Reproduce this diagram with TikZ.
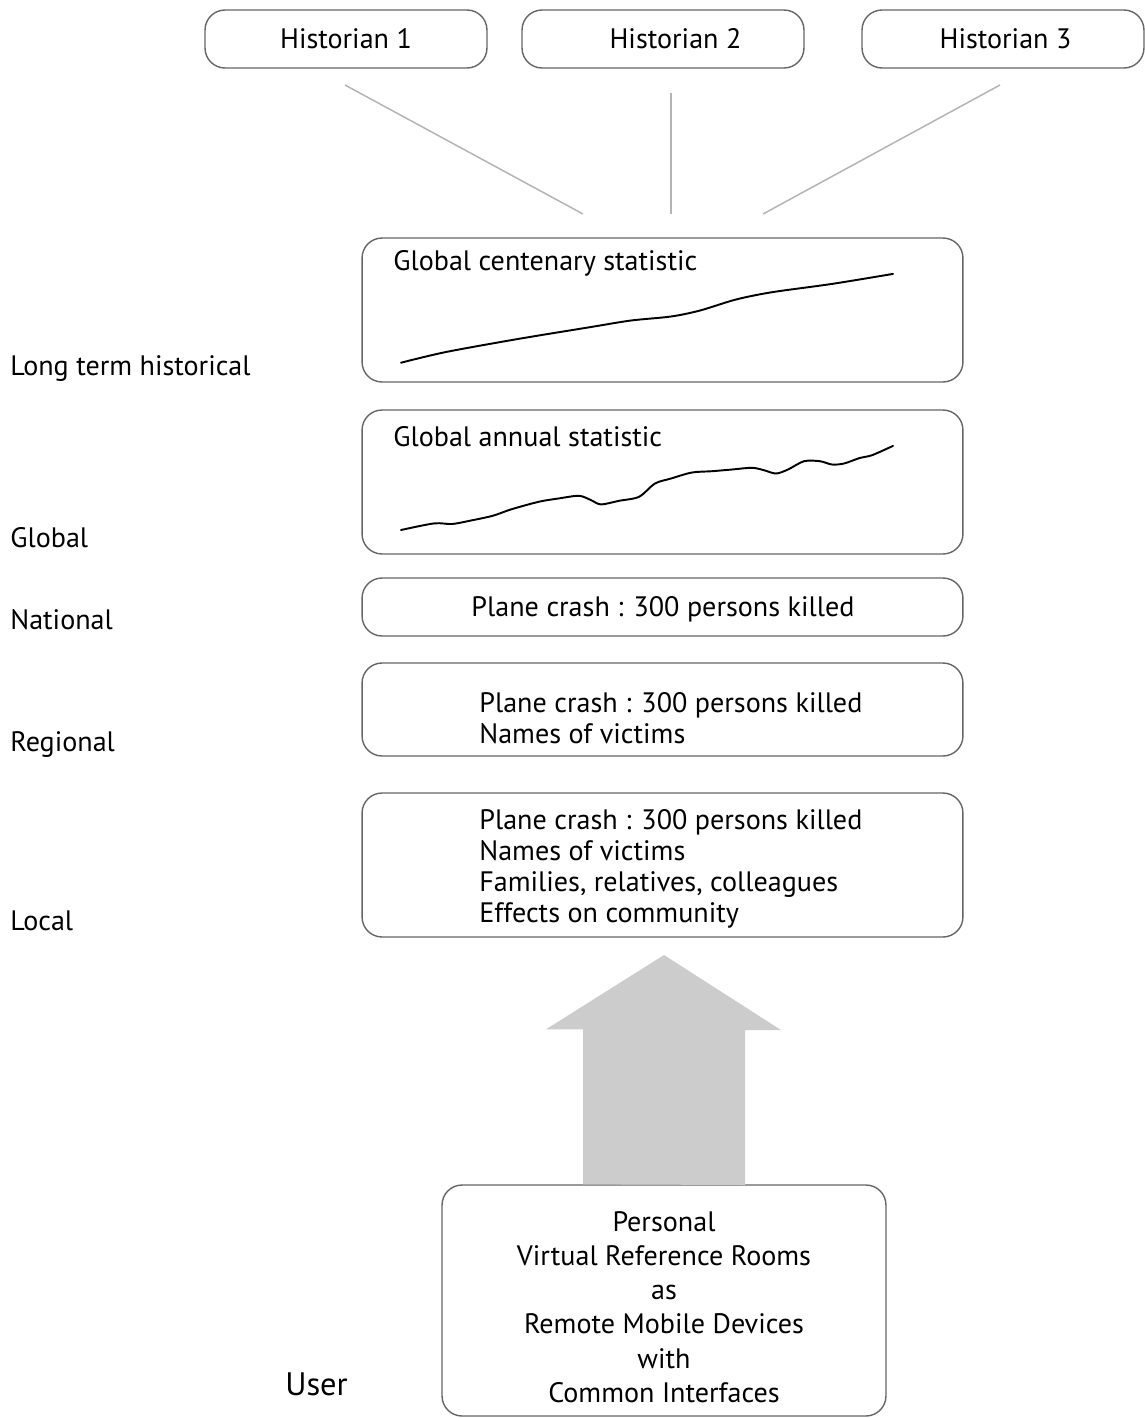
\documentclass[tikz,border=0pt]{standalone}
\usepackage{fontspec}
\setmainfont{PT Sans}
\usepackage{tikz}
\usetikzlibrary{positioning}

\definecolor{boxline}{HTML}{666666}
\definecolor{hubline}{HTML}{B4B4B4}
\definecolor{arrowgray}{HTML}{CCCCCC}

\tikzset{
    txt/.style={font=\fontsize{16pt}{17.6pt}\selectfont, inner sep=0pt},
    levelbox/.style={draw=boxline, line width=0.8pt, rounded corners=0.4cm, minimum width=12.02cm},
    histbox/.style={levelbox, txt, minimum width=5.64cm, minimum height=1.16cm},
    level/.style={txt, anchor=base west},
    stat/.style={line width=1.1pt, line cap=round}
}

\begin{document}
\begin{tikzpicture}[x=0.02cm, y=-0.02cm]
    \useasboundingbox (0,0) rectangle (1145,1418);

    % historians and their lines down to the statistics
    \foreach \ii/\xx/\ss in {1/346/0cm, 2/663/0.5cm, 3/1003/0.1cm}{
        \node[histbox] (h\ii) at (\xx,39) {\hspace*{\ss}Historian \ii};
    }
    \coordinate (top1) at (345,85);
    \coordinate (top2) at (671,93);
    \coordinate (top3) at (1000,85);
    \coordinate (hub1) at (583,214);
    \coordinate (hub2) at (671,214);
    \coordinate (hub3) at (763,214);
    \foreach \ii in {1,2,3}{
        \draw[hubline, line width=0.85pt] (top\ii) -- (hub\ii);
    }

    % level boxes
    \node[levelbox, minimum height=2.88cm] (cent) at (662.5,310) {};
    \node[levelbox, minimum height=2.88cm] (annual) at (662.5,482) {};
    \node[levelbox, minimum height=1.16cm] (national) at (662.5,607) {};
    \node[levelbox, minimum height=1.86cm] (regional) at (662.5,709.5) {};
    \node[levelbox, minimum height=2.88cm] (local) at (662.5,865) {};

    \node[txt, anchor=west] (centtitle) at (393,263) {Global centenary statistic};
    \node[txt, anchor=west] (annualtitle) at (393,437) {Global annual statistic};
    \node[txt] (nationaltext) at (663,609) {Plane crash : 300 persons killed};
    \node[txt, anchor=west, align=left] (regionaltext) at (479,718)
        {Plane crash : 300 persons killed\\Names of victims};
    \node[txt, anchor=west, align=left] (localtext) at (479,869)
        {Plane crash : 300 persons killed\\Names of victims\\Families, relatives, colleagues\\Effects on community};

    % the two statistic curves
    \draw[stat] plot[smooth, tension=0.5] coordinates {
        (401,362.7) (446,352) (519,338.8) (591,327) (631,320.5) (671,316.5)
        (700,310.5) (736,299.5) (772,292.2) (832,283.9) (893,273.9)};
    \draw[stat] plot[smooth, tension=0.5] coordinates {
        (401,530) (434,523.4) (452,524) (470,520.7) (493,515.7) (511,509.4)
        (539,501.7) (559,498.4) (579,495.8) (591,500.1) (601,504.4) (619,500.8)
        (639,496.8) (655,483.5) (671,478.5) (692,472.5) (712,471.2) (732,469.5)
        (752,467.8) (764,470.2) (776,473.5) (788,469.5) (804,461.2) (820,461.2)
        (832,464.5) (844,463.5) (860,457.9) (872,455.2) (893,445.9)};

    % level names on the left
    \node[level] (lLong) at (10,375) {Long term historical};
    \node[level] (lGlobal) at (10,547) {Global};
    \node[level] (lNational) at (10,629) {National};
    \node[level] (lRegional) at (10,751) {Regional};
    \node[level] (lLocal) at (10,930) {Local};

    % user box and the big arrow
    \node[levelbox, minimum width=8.88cm, minimum height=4.62cm] (user) at (664,1300.5) {};
    \node[txt, align=center, font=\fontsize{16pt}{19.5pt}\selectfont] (usertext) at (664,1307)
        {Personal\\Virtual Reference Rooms\\as\\Remote Mobile Devices\\with\\Common Interfaces};
    \node[txt, anchor=base west, font=\fontsize{18.5pt}{22pt}\selectfont] (lUser) at (285,1395) {User};

    \fill[arrowgray] (user.north) ++(-81,0) -- ++(0,-155) -- ++(-37,0) -- (664,955)
        -- (781,1030) -- (745,1030) -- (745,1185) -- cycle;
\end{tikzpicture}
\end{document}
